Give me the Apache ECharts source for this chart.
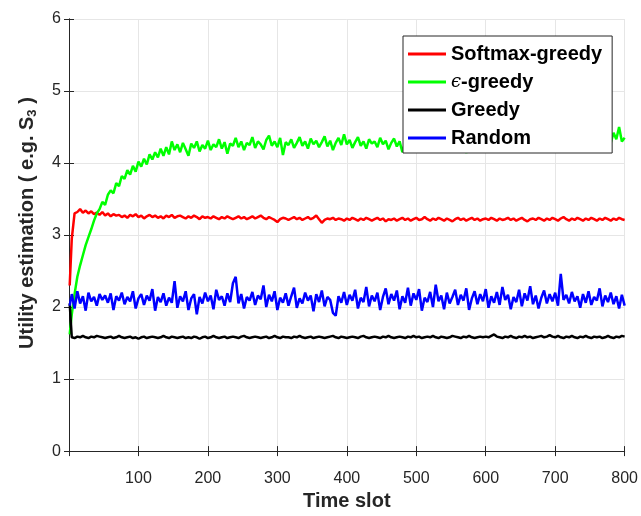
<!DOCTYPE html>
<html>
<head>
<meta charset="utf-8">
<script src="https://cdn.jsdelivr.net/npm/echarts@6/dist/echarts.min.js"></script>
<style>
  html, body { margin: 0; padding: 0; background: #fff; }
  #chart { width: 641px; height: 516px; }
</style>
</head>
<body>
<div id="chart"></div>
<script>
// Time slots: slot 1, then every 4th slot up to 800
const timeSlots = [1];
for (let t = 4; t <= 800; t += 4) timeSlots.push(t);

const yTicks = [0, 1, 2, 3, 4, 5, 6];
const xTickLabels = ['', '100', '200', '300', '400', '500', '600', '700', '800'];

const softmaxGreedy = [
  2.30,2.95,3.30,3.32,3.36,3.31,3.34,3.30,3.33,3.29,
  3.31,3.28,3.32,3.27,3.30,3.26,3.29,3.27,3.28,3.25,
  3.27,3.24,3.28,3.26,3.29,3.25,3.27,3.23,3.26,3.28,
  3.25,3.27,3.24,3.26,3.23,3.27,3.25,3.28,3.24,3.26,
  3.27,3.25,3.23,3.26,3.24,3.27,3.25,3.22,3.26,3.24,
  3.25,3.23,3.26,3.24,3.22,3.25,3.23,3.26,3.24,3.22,
  3.24,3.26,3.23,3.25,3.22,3.24,3.26,3.23,3.25,3.27,
  3.24,3.22,3.25,3.23,3.21,3.18,3.22,3.24,3.23,3.21,
  3.23,3.25,3.22,3.24,3.21,3.23,3.25,3.22,3.24,3.27,
  3.22,3.17,3.21,3.23,3.22,3.24,3.21,3.23,3.22,3.20,
  3.23,3.21,3.24,3.22,3.20,3.23,3.21,3.24,3.22,3.20,
  3.22,3.24,3.21,3.23,3.19,3.22,3.21,3.23,3.20,3.22,
  3.24,3.21,3.23,3.20,3.22,3.24,3.21,3.22,3.25,3.22,
  3.20,3.23,3.21,3.24,3.22,3.20,3.23,3.21,3.19,3.22,
  3.24,3.21,3.23,3.20,3.22,3.24,3.21,3.23,3.20,3.22,
  3.23,3.21,3.24,3.22,3.20,3.23,3.21,3.22,3.24,3.21,
  3.23,3.20,3.22,3.24,3.21,3.19,3.22,3.23,3.21,3.24,
  3.22,3.20,3.23,3.21,3.24,3.22,3.20,3.23,3.25,3.22,
  3.20,3.23,3.21,3.24,3.22,3.20,3.23,3.21,3.24,3.22,
  3.20,3.23,3.21,3.24,3.22,3.20,3.23,3.21,3.24,3.22,3.21
];

const epsilonGreedy = [
  1.62,1.90,2.18,2.42,2.58,2.72,2.86,2.97,3.08,3.20,
  3.30,3.36,3.46,3.42,3.56,3.62,3.58,3.72,3.68,3.82,
  3.78,3.90,3.84,3.96,3.88,4.02,3.95,4.06,3.98,4.12,
  4.05,4.15,4.08,4.20,4.10,4.22,4.12,4.30,4.18,4.26,
  4.15,4.28,4.19,4.10,4.27,4.21,4.30,4.16,4.25,4.20,
  4.31,4.18,4.26,4.22,4.33,4.20,4.29,4.13,4.27,4.24,
  4.35,4.22,4.30,4.18,4.28,4.25,4.36,4.21,4.30,4.26,
  4.19,4.32,4.38,4.24,4.30,4.22,4.35,4.11,4.29,4.25,
  4.33,4.21,4.28,4.36,4.24,4.30,4.20,4.34,4.26,4.31,
  4.22,4.29,4.37,4.23,4.31,4.18,4.28,4.35,4.25,4.40,
  4.26,4.32,4.21,4.29,4.36,4.24,4.30,4.20,4.33,4.27,
  4.30,4.22,4.35,4.26,4.31,4.19,4.28,4.34,4.23,4.30,
  4.15,4.29,4.35,4.22,4.31,4.27,4.20,4.33,4.25,4.30,
  4.18,4.28,4.34,4.21,4.30,4.26,4.17,4.32,4.24,4.29,
  4.20,4.33,4.26,4.14,4.30,4.25,4.31,4.22,4.28,4.18,
  4.30,4.24,4.33,4.21,4.29,4.35,4.23,4.30,4.19,4.28,
  4.32,4.25,4.17,4.30,4.26,4.34,4.22,4.29,4.19,4.31,
  4.27,4.21,4.33,4.25,4.30,4.20,4.28,4.35,4.23,4.30,
  4.26,4.18,4.31,4.24,4.29,4.21,4.33,4.26,4.19,4.30,
  4.27,4.22,4.32,4.26,4.36,4.28,4.42,4.33,4.50,4.30,4.35
];

const greedy = [
  2.05,1.58,1.57,1.59,1.58,1.60,1.58,1.57,1.59,1.58,
  1.60,1.59,1.58,1.57,1.58,1.59,1.57,1.58,1.60,1.58,
  1.57,1.58,1.59,1.57,1.58,1.56,1.58,1.59,1.57,1.58,
  1.59,1.58,1.57,1.58,1.60,1.58,1.57,1.59,1.58,1.57,
  1.58,1.59,1.57,1.58,1.57,1.59,1.58,1.56,1.58,1.59,
  1.57,1.58,1.60,1.58,1.57,1.58,1.59,1.57,1.58,1.59,
  1.58,1.57,1.59,1.60,1.58,1.57,1.58,1.59,1.58,1.57,
  1.58,1.59,1.57,1.58,1.60,1.58,1.57,1.59,1.58,1.58,
  1.57,1.59,1.58,1.60,1.58,1.57,1.58,1.59,1.57,1.58,
  1.59,1.58,1.57,1.58,1.59,1.60,1.58,1.57,1.59,1.58,
  1.57,1.58,1.59,1.58,1.57,1.59,1.60,1.58,1.57,1.58,
  1.59,1.58,1.57,1.59,1.58,1.60,1.58,1.57,1.58,1.59,
  1.58,1.57,1.59,1.58,1.60,1.58,1.59,1.57,1.58,1.59,
  1.58,1.60,1.58,1.57,1.59,1.58,1.57,1.58,1.60,1.59,
  1.58,1.57,1.59,1.58,1.60,1.58,1.57,1.58,1.59,1.58,
  1.59,1.58,1.60,1.62,1.59,1.58,1.57,1.59,1.58,1.60,
  1.58,1.57,1.59,1.58,1.60,1.58,1.59,1.57,1.58,1.59,
  1.60,1.58,1.59,1.61,1.59,1.58,1.60,1.58,1.57,1.59,
  1.58,1.60,1.58,1.57,1.59,1.58,1.60,1.58,1.57,1.59,
  1.58,1.59,1.57,1.58,1.60,1.58,1.57,1.59,1.58,1.60,1.59
];

const randomPolicy = [
  2.02,2.18,1.98,2.22,2.05,2.15,1.95,2.20,2.08,2.14,
  2.02,2.18,2.10,2.16,2.06,2.19,1.96,2.15,2.09,2.20,
  2.04,2.14,2.08,2.22,1.98,2.12,2.18,2.03,2.16,2.09,
  2.25,1.95,2.14,2.07,2.19,2.02,2.13,2.06,2.36,1.99,
  2.15,2.08,2.22,1.96,2.12,2.18,1.90,2.14,2.05,2.20,
  2.08,2.16,1.97,2.24,2.10,2.15,2.02,2.19,2.07,2.33,
  2.42,2.05,2.18,1.98,2.14,2.09,2.21,2.03,2.16,2.11,
  2.30,2.00,2.17,2.08,2.22,1.96,2.13,2.06,2.19,2.02,
  2.15,2.27,1.99,2.12,2.05,2.20,2.09,2.16,1.94,2.18,
  2.07,2.23,2.01,2.14,2.10,1.92,1.88,2.15,2.06,2.21,
  2.03,2.17,2.09,2.24,1.98,2.13,2.07,2.28,2.01,2.16,
  2.08,2.20,1.96,2.14,2.26,2.04,2.18,2.09,2.23,1.97,
  2.15,2.06,2.27,2.02,2.19,2.10,2.25,1.95,2.13,2.07,
  2.21,2.00,2.31,2.08,2.16,1.97,2.20,2.05,2.14,2.24,
  2.03,2.17,2.09,2.26,1.96,2.12,2.22,2.04,2.18,2.08,
  2.25,1.99,2.15,2.06,2.21,2.03,2.28,2.10,2.17,1.97,
  2.14,2.07,2.24,2.01,2.19,2.09,2.29,2.04,2.16,1.98,
  2.13,2.23,2.05,2.18,2.08,2.20,2.02,2.46,2.10,2.17,
  2.05,2.21,2.08,2.15,1.99,2.18,2.06,2.22,2.03,2.14,
  2.09,2.26,2.01,2.16,2.07,2.20,2.04,2.15,1.98,2.17,2.02
];

const seriesNames = ['Softmax-greedy', 'ϵ-greedy', 'Greedy', 'Random'];
const seriesColors = ['#ff0000', '#00ff00', '#000000', '#0000ff'];
const seriesValues = [softmaxGreedy, epsilonGreedy, greedy, randomPolicy];

const FONT = "'Liberation Sans', Arial, Helvetica, sans-serif";
const AXIS_COLOR = '#262626';

function pairs(values) {
  return values.map((v, i) => [timeSlots[i], v]);
}

const chart = echarts.init(document.getElementById('chart'), null, { renderer: 'canvas' });

const axisCommon = {
  axisLine: { show: true, lineStyle: { color: AXIS_COLOR, width: 1 } },
  axisTick: { show: true, inside: true, length: 5, lineStyle: { color: AXIS_COLOR, width: 1 } },
};

chart.setOption({
  animation: false,
  backgroundColor: '#ffffff',
  grid: { left: 69, right: 12, top: 19, bottom: 56, containLabel: false },
  xAxis: [
    Object.assign({
      type: 'value', position: 'bottom', min: 0, max: 800, interval: 100,
      name: 'Time slot', nameLocation: 'middle', nameGap: 31,
      nameTextStyle: { fontFamily: FONT, fontSize: 20, fontWeight: 'bold', color: AXIS_COLOR },
      axisLabel: {
        fontFamily: FONT, fontSize: 16, color: AXIS_COLOR, margin: 19,
        formatter: (v) => xTickLabels[Math.round(v / 100)]
      },
      splitLine: { show: true, lineStyle: { color: '#e6e6e6', width: 1 } }
    }, axisCommon),
    Object.assign({
      type: 'value', position: 'top', min: 0, max: 800, interval: 100,
      axisLabel: { show: false }, splitLine: { show: false }
    }, axisCommon)
  ],
  yAxis: [
    Object.assign({
      type: 'value', position: 'left', min: yTicks[0], max: yTicks[yTicks.length - 1], interval: 1,
      name: '{t|Utility estimation ( e.g. S}{s|3}{t| )}',
      nameLocation: 'middle', nameGap: 30, nameRotate: 90,
      nameTextStyle: {
        padding: [0, 0, 0, 24],
        rich: {
          t: { fontFamily: FONT, fontSize: 20, fontWeight: 'bold', color: AXIS_COLOR, lineHeight: 24 },
          s: { fontFamily: FONT, fontSize: 13, fontWeight: 'bold', color: AXIS_COLOR, lineHeight: 13, verticalAlign: 'bottom' }
        }
      },
      axisLabel: { fontFamily: FONT, fontSize: 16, color: AXIS_COLOR, margin: 8 },
      splitLine: { show: true, lineStyle: { color: '#e6e6e6', width: 1 } }
    }, axisCommon),
    Object.assign({
      type: 'value', position: 'right', min: 0, max: 6, interval: 1,
      axisLabel: { show: false }, splitLine: { show: false }
    }, axisCommon)
  ],
  legend: {
    show: true,
    orient: 'vertical',
    left: 403, top: 36,
    padding: [8, 10, 5, 5],
    itemGap: 8,
    itemWidth: 38,
    itemHeight: 3,
    icon: 'rect',
    backgroundColor: '#ffffff',
    borderColor: AXIS_COLOR,
    borderWidth: 1,
    borderRadius: 0,
    data: seriesNames,
    formatter: (name) => name === 'ϵ-greedy' ? '{e|ϵ}{b|-greedy}' : '{b|' + name + '}',
    textStyle: {
      padding: [0, 0, 0, 0],
      rich: {
        b: { fontFamily: FONT, fontSize: 20, fontWeight: 'bold', color: '#000' },
        e: { fontFamily: "'DejaVu Serif', serif", fontSize: 18, fontStyle: 'italic', color: '#000' }
      }
    }
  },
  series: seriesNames.map((name, k) => ({
    name: name,
    type: 'line',
    xAxisIndex: 0,
    yAxisIndex: 0,
    data: pairs(seriesValues[k]),
    showSymbol: false,
    symbol: 'none',
    color: seriesColors[k],
    lineStyle: { color: seriesColors[k], width: 2.5 },
    z: 2 + k
  }))
});
</script>
</body>
</html>
